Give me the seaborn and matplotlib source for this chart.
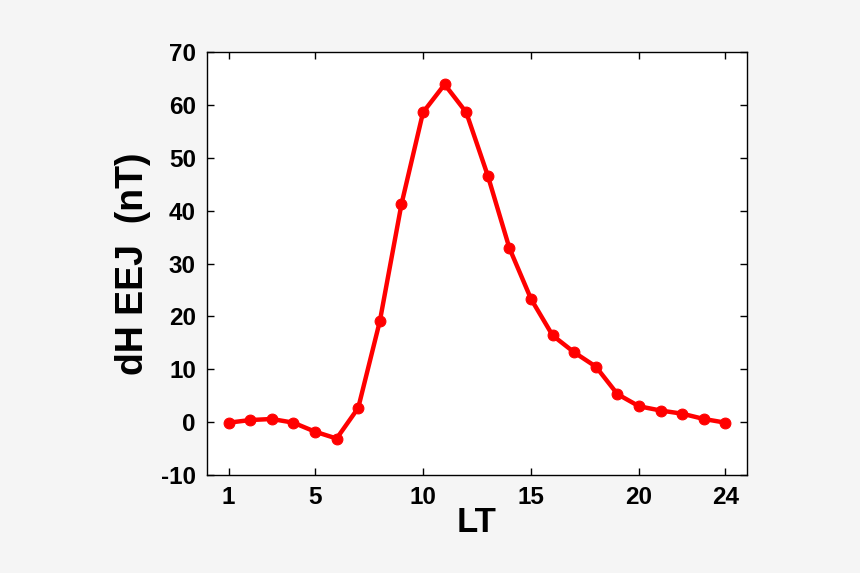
import numpy as np
import pandas as pd
import seaborn as sns
import matplotlib
matplotlib.use("Agg")
import matplotlib.pyplot as plt

# hourly local time and EEJ strength
lt_hours = list(range(1, 25))
dh_eej = [-0.1, 0.4, 0.6, -0.1, -1.8, -3.1, 2.7, 19.1, 41.2, 58.6, 63.9, 58.6,
          46.6, 32.9, 23.3, 16.4, 13.2, 10.5, 5.3, 3.0, 2.2, 1.6, 0.6, -0.1]
x_ticks = [1, 5, 10, 15, 20, 24]
y_ticks = list(range(-10, 71, 10))

df = pd.DataFrame({"LT": lt_hours, "dH": dh_eej})

sns.set_style("ticks")
plt.rcParams['font.family'] = ['Liberation Sans', 'DejaVu Sans']
plt.rcParams['font.weight'] = 'bold'
plt.rcParams['axes.unicode_minus'] = False
plt.rcParams['text.color'] = 'black'
plt.rcParams['axes.labelcolor'] = 'black'

fig = plt.figure(figsize=(8.6, 5.73), dpi=100, facecolor='#f5f5f5')
ax = fig.add_axes([0.2407, 0.171, 0.628, 0.738])
ax.set_facecolor('white')

sns.lineplot(data=df, x="LT", y="dH", ax=ax, color='red', linewidth=3.2,
             marker='o', markersize=7.8, markeredgecolor='red')

ax.set_xlim(0, 25)
ax.set_ylim(-10, 70)
ax.set_xticks(x_ticks)
ax.set_yticks(y_ticks)
ax.tick_params(direction='in', length=5, width=1, top=True, right=True,
               labelsize=17.5, pad=8, colors='black')
for lbl in ax.get_xticklabels() + ax.get_yticklabels():
    lbl.set_fontweight('bold')
for sp in ax.spines.values():
    sp.set_visible(True)
    sp.set_linewidth(1)
    sp.set_color('black')

ax.set_xlabel("LT", fontsize=25, fontweight='bold', labelpad=-2)
ax.set_ylabel("dH EEJ  (nT)", fontsize=27, fontweight='bold', labelpad=7)

fig.savefig("out.png", dpi=100, facecolor=fig.get_facecolor())
